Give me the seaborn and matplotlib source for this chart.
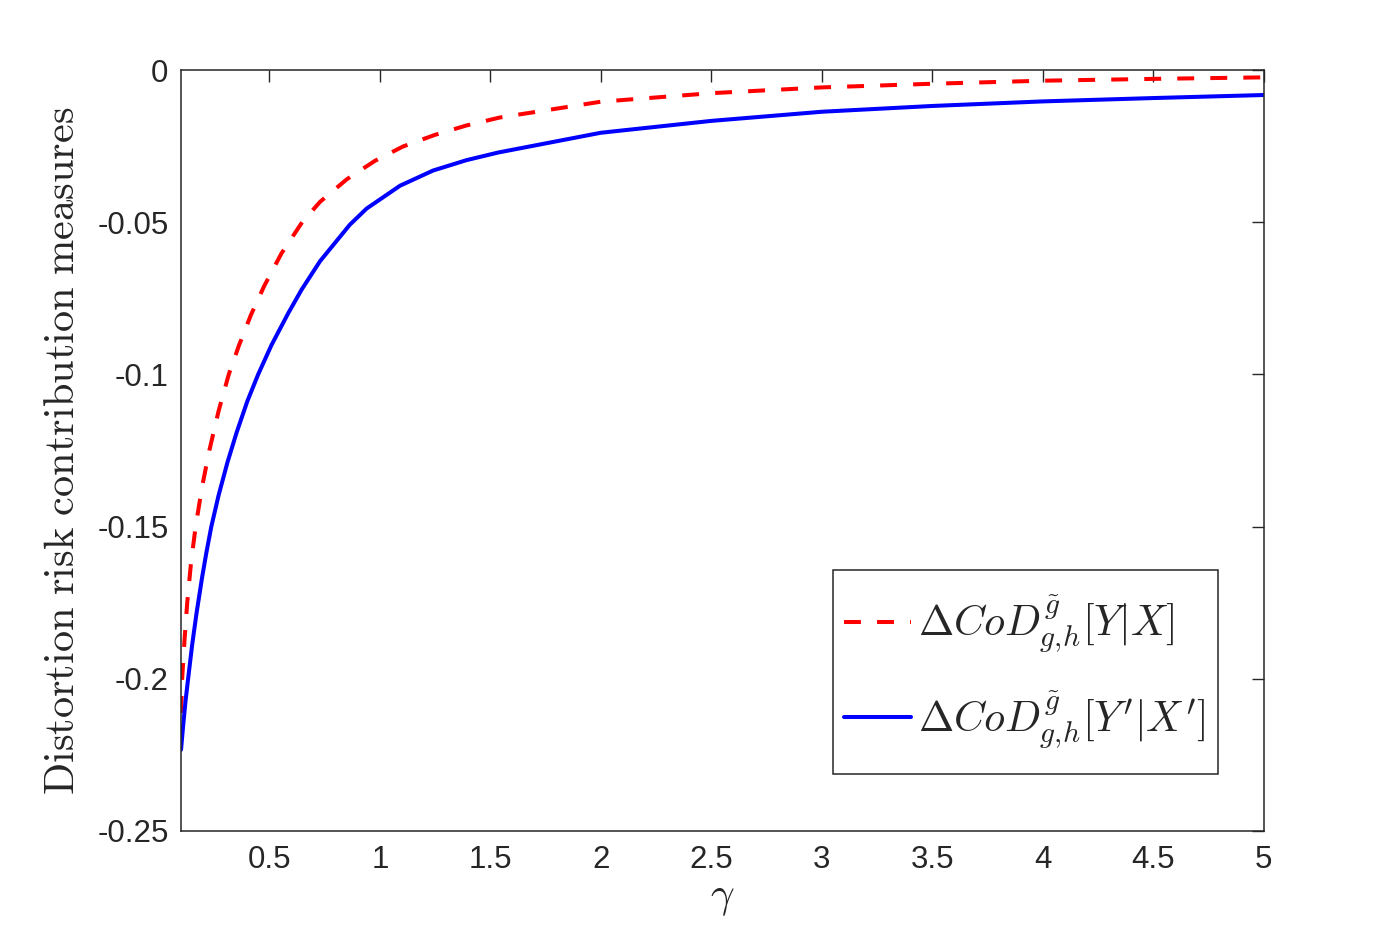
import pandas as pd
import matplotlib
matplotlib.use("Agg")
import matplotlib.pyplot as plt
from matplotlib.patches import Rectangle
import seaborn as sns

# values
gamma_a = [0.100, 0.105, 0.116, 0.128, 0.145, 0.166, 0.195, 0.228, 0.270, 0.316,
           0.362, 0.416, 0.476, 0.554, 0.648, 0.729, 0.850, 0.978, 1.105, 1.249,
           1.392, 1.542, 2.0, 2.5, 3.0, 3.5, 4.0, 4.5, 5.0]
dcod_a = [-0.2112, -0.2000, -0.1870, -0.1750, -0.1620, -0.1500, -0.1370, -0.1250,
          -0.1120, -0.1000, -0.0905, -0.0805, -0.0710, -0.0603, -0.0500, -0.0433,
          -0.0359, -0.0298, -0.0251, -0.0213, -0.0182, -0.0156, -0.0104, -0.0076,
          -0.0057, -0.0045, -0.0035, -0.0029, -0.0024]

gamma_b = [0.100, 0.110, 0.120, 0.132, 0.150, 0.170, 0.195, 0.215, 0.237, 0.270,
           0.310, 0.351, 0.400, 0.449, 0.509, 0.585, 0.646, 0.729, 0.864, 0.940,
           1.091, 1.241, 1.392, 1.535, 2.0, 2.5, 3.0, 3.5, 4.0, 4.5, 5.0]
dcod_b = [-0.2233, -0.2150, -0.2075, -0.2000, -0.1890, -0.1785, -0.1668, -0.1584,
          -0.1500, -0.1397, -0.1289, -0.1192, -0.1088, -0.1000, -0.0904, -0.0799,
          -0.0721, -0.0628, -0.0508, -0.0455, -0.0380, -0.0330, -0.0296, -0.0271,
          -0.0206, -0.0167, -0.0137, -0.0118, -0.0103, -0.0092, -0.0082]

label_a = r'$\Delta CoD^{\tilde{g}}_{g,\!h}[Y|X]$'
label_b = r"$\Delta CoD^{\tilde{g}}_{g,\!h}[Y'|X']$"

x_ticks = [0.5, 1, 1.5, 2, 2.5, 3, 3.5, 4, 4.5, 5]
x_tick_labels = ['0.5', '1', '1.5', '2', '2.5', '3', '3.5', '4', '4.5', '5']
y_ticks = [0, -0.05, -0.1, -0.15, -0.2, -0.25]
y_tick_labels = ['0', '-0.05', '-0.1', '-0.15', '-0.2', '-0.25']

sns.set_style("white")
plt.rcParams['font.family'] = ['Liberation Sans', 'DejaVu Sans']
plt.rcParams['mathtext.fontset'] = 'cm'
plt.rcParams['lines.solid_joinstyle'] = 'round'
plt.rcParams['lines.dash_joinstyle'] = 'round'

df_a = pd.DataFrame({'gamma': gamma_a, 'value': dcod_a})
df_b = pd.DataFrame({'gamma': gamma_b, 'value': dcod_b})

fig = plt.figure(figsize=(13.98, 9.34), dpi=100)
ax = fig.add_axes([0.1295, 0.1103, 0.7745, 0.8147])

sns.lineplot(data=df_a, x='gamma', y='value', ax=ax, color='#ff0000', linewidth=2.9,
             label=label_a)
sns.lineplot(data=df_b, x='gamma', y='value', ax=ax, color='#0000ff', linewidth=2.9,
             label=label_b)
ax.lines[0].set_dashes([4.2, 4.0])

ax.set_xlim(0.1, 5)
ax.set_ylim(-0.25, 0)
ax.set_xticks(x_ticks)
ax.set_xticklabels(x_tick_labels)
ax.set_yticks(y_ticks)
ax.set_yticklabels(y_tick_labels)

ax.tick_params(direction='in', length=8.6, width=1.0, color='#262626',
               labelsize=22.5, labelcolor='#262626', top=True, right=True)
ax.tick_params(axis='x', pad=10)
ax.tick_params(axis='y', pad=9)
for sp in ax.spines.values():
    sp.set_visible(True)
    sp.set_color('#262626')
    sp.set_linewidth(1.1)

ax.set_xlabel(r'$\gamma$', fontsize=30, labelpad=2)
ax.set_ylabel(r'$\mathrm{Distortion\ risk\ contribution\ measures}$', fontsize=30.5,
              labelpad=10)

# legend without its own frame; the box is drawn narrower than matplotlib's
# padding would make it (MATLAB pads less at the sides than top/bottom)
leg = ax.legend(loc='lower right', bbox_to_anchor=(0.968, 0.0749), fontsize=30.5,
                frameon=False, handlelength=1.58, handletextpad=0.16,
                labelspacing=0.78, borderpad=0.55, borderaxespad=0)

fig.canvas.draw()
bb = leg.get_window_extent()
inset = 11.5
(x0, y0), (x1, y1) = fig.transFigure.inverted().transform(
    [[bb.x0 + inset, bb.y0], [bb.x1 - inset, bb.y1]])
fig.add_artist(Rectangle((x0, y0), x1 - x0, y1 - y0, transform=fig.transFigure,
                         fill=False, edgecolor='#262626', linewidth=1.1, zorder=6))

fig.savefig('out.png', dpi=100)
